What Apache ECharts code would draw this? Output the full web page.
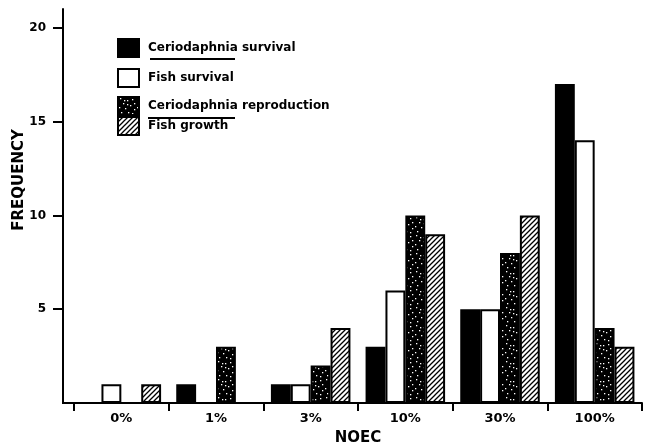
<!DOCTYPE html>
<html>
<head>
<meta charset="utf-8">
<script src="https://cdn.jsdelivr.net/npm/echarts@6/dist/echarts.min.js"></script>
<style>html,body{margin:0;padding:0;background:#fff;}#c{width:653px;height:446px;}</style>
</head>
<body>
<div id="c"></div>
<script>
const categories = ['0%', '1%', '3%', '10%', '30%', '100%'];
const seriesNames = ['Ceriodaphnia survival', 'Fish survival', 'Ceriodaphnia reproduction', 'Fish growth'];
const cerioSurvival = [0, 1, 1, 3, 5, 17];
const fishSurvival = [1, 0, 1, 6, 5, 14];
const cerioRepro = [0, 3, 2, 10, 8, 4];
const fishGrowth = [1, 0, 4, 9, 10, 3];
const yTicks = [5, 10, 15, 20];

// texture: black with white speckles (fixed layout)
function speckle() {
  const c = document.createElement('canvas');
  c.width = 18; c.height = 18;
  const g = c.getContext('2d');
  g.fillStyle = '#000'; g.fillRect(0, 0, 18, 18);
  g.fillStyle = '#fff';
  const pts = [[2,1],[9,3],[14,2],[5,6],[12,8],[1,10],[7,11],[16,12],[3,15],[10,15],[14,16],[6,3],[16,6],[9,7]];
  pts.forEach(p => g.fillRect(p[0], p[1], 1.3, 1.3));
  return c;
}
function hatch() {
  const c = document.createElement('canvas');
  c.width = 5; c.height = 5;
  const g = c.getContext('2d');
  g.fillStyle = '#fff'; g.fillRect(0, 0, 5, 5);
  g.strokeStyle = '#000'; g.lineWidth = 1.3;
  g.beginPath();
  g.moveTo(-1, 6); g.lineTo(6, -1);
  g.moveTo(-1, 1); g.lineTo(1, -1);
  g.moveTo(4, 6); g.lineTo(6, 4);
  g.stroke();
  return c;
}
const fills = ['#000', '#fff', { image: speckle(), repeat: 'repeat' }, { image: hatch(), repeat: 'repeat' }];
const dataSets = [cerioSurvival, fishSurvival, cerioRepro, fishGrowth];
const legendTops = [38, 68, 96, 116];
const font = 'DejaVu Sans';

const chart = echarts.init(document.getElementById('c'), null, { renderer: 'canvas' });
chart.setOption({
  animation: false,
  backgroundColor: '#fff',
  grid: { left: 74, right: 11, top: 9, bottom: 43, outerBoundsMode: 'none', containLabel: false },
  legend: seriesNames.map((n, i) => ({
    data: [n], left: 117, top: legendTops[i], padding: 0, icon: 'rect',
    itemWidth: 21, itemHeight: 18, selectedMode: false,
    textStyle: { fontFamily: font, fontWeight: 'bold', fontSize: 12, color: '#000', padding: [0, 0, 0, 4] }
  })),
  xAxis: {
    type: 'category', data: categories, boundaryGap: true,
    axisLine: { show: true, lineStyle: { color: '#000', width: 2 } },
    axisTick: { show: true, inside: false, alignWithLabel: false, interval: 0, length: 8, lineStyle: { color: '#000', width: 2 } },
    axisLabel: { margin: 9, fontFamily: font, fontWeight: 'bold', fontSize: 13, color: '#000' },
    name: 'NOEC', nameLocation: 'middle', nameGap: 28, nameMoveOverlap: false,
    nameTextStyle: { fontFamily: font, fontWeight: 'bold', fontSize: 15, color: '#000' }
  },
  yAxis: {
    type: 'value', min: 0, max: 21, interval: 5, offset: 11,
    splitLine: { show: false },
    axisLine: { show: true, lineStyle: { color: '#000', width: 2 } },
    axisTick: { show: true, length: 10, customValues: yTicks, lineStyle: { color: '#000', width: 2 } },
    axisLabel: { customValues: yTicks, margin: 17, fontFamily: font, fontWeight: 'bold', fontSize: 12, color: '#000' },
    name: 'FREQUENCY', nameLocation: 'middle', nameGap: 36, nameMoveOverlap: false,
    nameTextStyle: { fontFamily: font, fontWeight: 'bold', fontSize: 15, color: '#000', padding: [0, 0, 0, 52] }
  },
  graphic: [
    { type: 'line', shape: { x1: 62, y1: 403, x2: 75, y2: 403 }, style: { stroke: '#000', lineWidth: 2 } },
    { type: 'line', shape: { x1: 150, y1: 59, x2: 235, y2: 59 }, style: { stroke: '#000', lineWidth: 2 } },
    { type: 'line', shape: { x1: 148, y1: 118, x2: 235, y2: 118 }, style: { stroke: '#000', lineWidth: 2 } }
  ],
  series: seriesNames.map((n, i) => ({
    name: n, type: 'bar', data: dataSets[i],
    barGap: '0%', barCategoryGap: '16%',
    itemStyle: { color: fills[i], borderColor: '#000', borderWidth: 2 }
  }))
});
</script>
</body>
</html>
